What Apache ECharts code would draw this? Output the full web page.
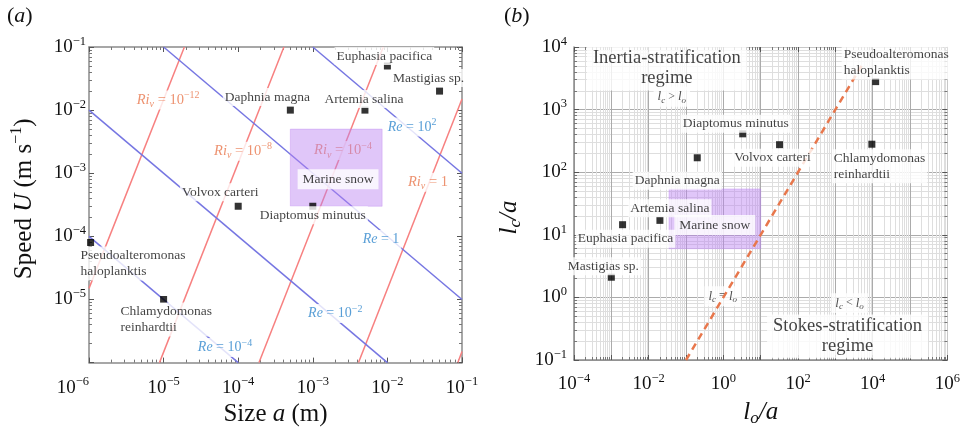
<!DOCTYPE html>
<html><head><meta charset="utf-8">
<script src="https://cdn.jsdelivr.net/npm/echarts@6/dist/echarts.min.js"></script>
<style>html,body{margin:0;padding:0;background:#fff}#c{width:963px;height:432px}</style>
</head><body><div id="c"></div>
<script>
const SERIF = '"Liberation Serif","DejaVu Serif",serif';

// ---------------- panel (a) : speed vs size ----------------
const organisms = ['Euphasia pacifica', 'Mastigias sp.', 'Artemia salina', 'Daphnia magna',
  'Diaptomus minutus', 'Volvox carteri', 'Pseudoalteromonas\nhaloplanktis', 'Chlamydomonas\nreinhardtii'];
const sizeA  = [1e-2, 5e-2, 5e-3, 5e-4, 1e-3, 1e-4, 1.05e-6, 1e-5];
const speedU = [5e-2, 2e-2, 1e-2, 1e-2, 3e-4, 3e-4, 8e-5, 1e-5];

// Reynolds-number lines (endpoints) and labels
const reExp    = [2, 0, -2, -4];
const reLineA  = [[1e-3, 1e-1], [1e-5, 1e-1], [1e-6, 1e-2], [1e-6, 1e-4]];
const reLineU  = [[1e-1, 1e-3], [1e-1, 1e-5], [1e-2, 1e-6], [1e-4, 1e-6]];
const reLabelA = [2.14e-2, 8.2e-3, 2.0e-3, 6.65e-5];
const reLabelU = [5.4e-3, 8.95e-5, 6.0e-6, 1.74e-6];

// Richardson-number lines (endpoints) and labels
const riExp    = [-12, -8, -4, 0];
const riLineA  = [[1e-6, 1.9e-5], [8.8e-6, 4.1e-4], [1.9e-4, 8.8e-3], [4.1e-3, 1e-1], [8.8e-2, 1e-1]];
const riLineU  = [[1.5e-5, 1e-1], [1e-6, 1e-1], [1e-6, 1e-1], [1e-6, 1.5e-2], [1e-6, 1.5e-6]];
const riLabelA = [1.15e-5, 1.16e-4, 2.54e-3, 3.5e-2];
const riLabelU = [1.45e-2, 2.23e-3, 2.3e-3, 7.2e-4];

// marine snow region
const snowA = [5e-4, 8.5e-3];
const snowU = [3e-4, 5e-3];
const snowLabelA = [2.18e-3];
const snowLabelU = [8.0e-4];

// ---------------- panel (b) : lc/a vs lo/a ----------------
const loOverA = [2e-3, 1e-3, 2e-2, 0.2, 3.3, 32, 1.2e4, 9.5e3];
const lcOverA = [14.5, 2.1, 17, 170, 410, 275, 2.8e3, 280];
const snowLo = [0.035, 10];
const snowLc = [6, 54];
const snowLabelLo = [0.59];
const snowLabelLc = [14.3];
const equalLo = [0.1, 5e3];
const equalLc = [0.1, 5e3];
const regimeText = ['Inertia-stratification\nregime', 'Stokes-stratification\nregime'];
const regimeLo = [0.0307, 2.12e3];
const regimeLc = [4.53e3, 0.237];
const condSign = ['>', '<', '='];
const condLo = [0.0417, 2.4e3, 0.964];
const condLc = [1.6e3, 0.805, 1.04];

// ---------------- layout (label offsets) ----------------
const offA = [[-3, -10], [-11, -13], [-1, -11], [-23, -13], [0, 9], [-18, -14], [-12, 21], [-45, 20]];
const alignA = ['center', 'center', 'center', 'center', 'center', 'center', 'left', 'left'];
const offB = [[3, 14], [-8, -11], [10, -12], [-20, 23], [-7, -10], [-7, 13], [-34, -19], [-40, 22]];
const alignB = ['center', 'center', 'center', 'center', 'center', 'center', 'left', 'left'];

const RED = '#f78080', BLUE = '#7676e2', ORANGE = '#e8774c', REBLUE = '#2e86cc';

function supNum(e) { return e < 0 ? '\u2212' + (-e) : String(e); }
function pow10Label(v) {
  const e = Math.round(Math.log10(v));
  return '{b|10}{s|' + supNum(e) + '}';
}
const tickRich = {
  b: { fontFamily: SERIF, fontSize: 19, color: '#111', lineHeight: 24 },
  s: { fontFamily: SERIF, fontSize: 12.5, color: '#111', verticalAlign: 'top', lineHeight: 14 }
};
function pow10LabelEven(v) {
  const e = Math.round(Math.log10(v));
  if (e % 2 !== 0) return '';
  return pow10Label(v);
}

function baseAxis(grid, pos, min, max, o) {
  const a = {
    type: 'log', logBase: 10, gridIndex: grid, position: pos, min: min, max: max,
    axisLine: { show: true, onZero: false, lineStyle: { color: '#8a8a8a', width: 1.5 } },
    axisTick: { show: true, inside: true, length: 5, lineStyle: { color: '#555', width: 1 } },
    minorTick: { show: true, splitNumber: 9, length: 3, lineStyle: { color: '#777', width: 1 } },
    splitLine: { show: false },
    axisLabel: { show: false },
    silent: true
  };
  return Object.assign(a, o || {});
}

const nameRich = {
  n: { fontFamily: SERIF, fontSize: 25, color: '#111', lineHeight: 30 },
  i: { fontFamily: SERIF, fontSize: 25, fontStyle: 'italic', color: '#111', lineHeight: 30 },
  s: { fontFamily: SERIF, fontSize: 16, color: '#111', verticalAlign: 'top', lineHeight: 18 },
  sub: { fontFamily: SERIF, fontSize: 17, fontStyle: 'italic', color: '#111', verticalAlign: 'bottom', lineHeight: 16 }
};

const gridSplit = { show: true, lineStyle: { color: '#ababab', width: 1 } };
const gridMinor = { show: true, lineStyle: { color: '#dedede', width: 1 } };

const xAxes = [
  baseAxis(0, 'bottom', 1e-6, 1e-1, {
    axisLabel: { show: true, formatter: pow10Label, rich: tickRich, margin: 13, alignMinLabel: 'right' },
    name: '{n|Size }{i|a}{n| (m)}', nameLocation: 'middle', nameGap: 36,
    nameTextStyle: { rich: nameRich }
  }),
  baseAxis(1, 'bottom', 1e-4, 1e6, {
    splitNumber: 10,
    axisLabel: { show: true, formatter: pow10LabelEven, rich: tickRich, margin: 12 },
    splitLine: gridSplit, minorSplitLine: gridMinor,
    name: '{i|l}{sub|o}{i|/a}', nameLocation: 'middle', nameGap: 37,
    nameTextStyle: { rich: nameRich }
  }),
  baseAxis(0, 'top', 1e-6, 1e-1),
  baseAxis(1, 'top', 1e-4, 1e6, { splitNumber: 10, axisLine: { show: true, onZero: false, lineStyle: { color: '#c8c8c8', width: 1 } } })
];
const yAxes = [
  baseAxis(0, 'left', 1e-6, 1e-1, {
    axisLabel: { show: true, formatter: pow10Label, rich: tickRich, margin: 3, showMinLabel: false },
    name: '{n|Speed }{i|U}{n| (m s}{s|\u22121}{n|)}', nameLocation: 'middle', nameGap: 50,
    nameTextStyle: { rich: nameRich, padding: [0, 0, 0, 12] }
  }),
  baseAxis(1, 'left', 1e-1, 1e4, {
    axisLabel: { show: true, formatter: pow10Label, rich: tickRich, margin: 7 },
    splitLine: gridSplit, minorSplitLine: gridMinor,
    name: '{i|l}{sub|c}{i|/a}', nameLocation: 'middle', nameGap: 50,
    nameTextStyle: { rich: nameRich, padding: [0, 28, 0, 0] }
  }),
  baseAxis(0, 'right', 1e-6, 1e-1),
  baseAxis(1, 'right', 1e-1, 1e4, { axisLine: { show: true, onZero: false, lineStyle: { color: '#c8c8c8', width: 1 } } })
];

const series = [];
// Ri lines
riLineA.forEach(function (xs, k) {
  series.push({ type: 'line', xAxisIndex: 0, yAxisIndex: 0, z: 1, symbol: 'none', silent: true,
    lineStyle: { color: RED, width: 1.5 }, data: [[xs[0], riLineU[k][0]], [xs[1], riLineU[k][1]]] });
});
// Re lines
reLineA.forEach(function (xs, k) {
  series.push({ type: 'line', xAxisIndex: 0, yAxisIndex: 0, z: 1, symbol: 'none', silent: true,
    lineStyle: { color: BLUE, width: 1.5 }, data: [[xs[0], reLineU[k][0]], [xs[1], reLineU[k][1]]] });
});

const riRich = {
  r: { fontFamily: SERIF, fontSize: 14.5, fontStyle: 'italic', color: ORANGE, lineHeight: 19 },
  v: { fontFamily: SERIF, fontSize: 10, fontStyle: 'italic', color: ORANGE, verticalAlign: 'bottom', lineHeight: 12 },
  t: { fontFamily: SERIF, fontSize: 14.5, color: ORANGE, lineHeight: 19 },
  s: { fontFamily: SERIF, fontSize: 10, color: ORANGE, verticalAlign: 'top', lineHeight: 12 }
};
const reRich = {
  r: { fontFamily: SERIF, fontSize: 14, fontStyle: 'italic', color: REBLUE, lineHeight: 19 },
  t: { fontFamily: SERIF, fontSize: 14, color: REBLUE, lineHeight: 19 },
  s: { fontFamily: SERIF, fontSize: 10, color: REBLUE, verticalAlign: 'top', lineHeight: 12 }
};
series.push({
  type: 'scatter', xAxisIndex: 0, yAxisIndex: 0, z: 2, silent: true, symbolSize: 1,
  itemStyle: { color: 'transparent' },
  data: riExp.map(function (e, k) {
    return { value: [riLabelA[k], riLabelU[k]],
      label: { formatter: e === 0 ? '{r|Ri}{v|v}{t| = 1}' : '{r|Ri}{v|v}{t| = 10}{s|' + supNum(e) + '}' } };
  }),
  label: { show: true, position: 'inside', backgroundColor: '#fff', padding: [0, 2], rich: riRich }
});
series.push({
  type: 'scatter', xAxisIndex: 0, yAxisIndex: 0, z: 2, silent: true, symbolSize: 1,
  itemStyle: { color: 'transparent' },
  data: reExp.map(function (e, k) {
    return { value: [reLabelA[k], reLabelU[k]],
      label: { formatter: e === 0 ? '{r|Re}{t| = 1}' : '{r|Re}{t| = 10}{s|' + supNum(e) + '}' } };
  }),
  label: { show: true, position: 'inside', backgroundColor: '#fff', padding: [0, 2], rich: reRich }
});

function boxSeries(xi, yi, xs, ys) {
  return {
    type: 'custom', xAxisIndex: xi, yAxisIndex: yi, z: 3, silent: true,
    data: [[xs[0], ys[0], xs[1], ys[1]]], encode: { x: [0, 2], y: [1, 3] },
    renderItem: function (params, api) {
      const p0 = api.coord([api.value(0), api.value(3)]);
      const p1 = api.coord([api.value(2), api.value(1)]);
      return { type: 'rect', shape: { x: p0[0], y: p0[1], width: p1[0] - p0[0], height: p1[1] - p0[1] },
        style: { fill: 'rgba(186,128,242,0.45)', stroke: 'rgba(186,128,242,0.35)', lineWidth: 1 } };
    }
  };
}
const plainLabel = { fontFamily: SERIF, fontSize: 13.5, color: '#111', backgroundColor: '#fff', padding: [1, 2], lineHeight: 16 };
function snowLabel(xi, yi, xs, ys) {
  return {
    type: 'scatter', xAxisIndex: xi, yAxisIndex: yi, z: 4, silent: true, symbolSize: 1,
    itemStyle: { color: 'transparent' },
    data: [{ value: [xs[0], ys[0]] }],
    label: Object.assign({ show: true, position: 'inside', formatter: 'Marine snow' }, plainLabel, { padding: [2, 5] })
  };
}
series.push(boxSeries(0, 0, snowA, snowU));
series.push(snowLabel(0, 0, snowLabelA, snowLabelU));

function pointSeries(xi, yi, xs, ys, offs, aligns) {
  return {
    type: 'scatter', xAxisIndex: xi, yAxisIndex: yi, z: 5, silent: true,
    symbol: 'rect', symbolSize: 7, itemStyle: { color: '#000' },
    data: organisms.map(function (n, k) {
      return { name: n, value: [xs[k], ys[k]], label: { offset: offs[k], align: aligns[k] } };
    }),
    label: Object.assign({ show: true, position: 'inside', verticalAlign: 'middle', formatter: '{b}' }, plainLabel)
  };
}
series.push(pointSeries(0, 0, sizeA, speedU, offA, alignA));

// panel (b)
series.push({
  type: 'scatter', xAxisIndex: 1, yAxisIndex: 1, z: 2, silent: true, symbolSize: 1,
  itemStyle: { color: 'transparent' },
  data: regimeText.map(function (t, k) { return { value: [regimeLo[k], regimeLc[k]], label: { formatter: t } }; }),
  label: { show: true, position: 'inside', fontFamily: SERIF, fontSize: 18.5, lineHeight: 20, color: '#111',
    align: 'center', backgroundColor: '#fff', padding: [2, 6] }
});
const condRich = {
  i: { fontFamily: SERIF, fontSize: 13, fontStyle: 'italic', color: '#222', lineHeight: 16 },
  b: { fontFamily: SERIF, fontSize: 9, fontStyle: 'italic', color: '#222', verticalAlign: 'bottom', lineHeight: 10 },
  t: { fontFamily: SERIF, fontSize: 12, color: '#222', lineHeight: 16 }
};
series.push({
  type: 'scatter', xAxisIndex: 1, yAxisIndex: 1, z: 2, silent: true, symbolSize: 1,
  itemStyle: { color: 'transparent' },
  data: condSign.map(function (s, k) {
    return { value: [condLo[k], condLc[k]], label: { formatter: '{i|l}{b|c}{t| ' + s + ' }{i|l}{b|o}' } };
  }),
  label: { show: true, position: 'inside', backgroundColor: '#fff', padding: [2, 4], rich: condRich }
});
series.push(boxSeries(1, 1, snowLo, snowLc));
series.push({
  type: 'line', xAxisIndex: 1, yAxisIndex: 1, z: 4, symbol: 'none', silent: true,
  lineStyle: { color: ORANGE, width: 2.5, type: [7, 5] },
  data: [[equalLo[0], equalLc[0]], [equalLo[1], equalLc[1]]]
});
series.push(snowLabel(1, 1, snowLabelLo, snowLabelLc));
series.push(pointSeries(1, 1, loOverA, lcOverA, offB, alignB));

const panelRich = {
  p: { fontFamily: SERIF, fontSize: 22, fill: '#111' },
  i: { fontFamily: SERIF, fontSize: 22, fontStyle: 'italic', fill: '#111' }
};

const chart = echarts.init(document.getElementById('c'), null, { renderer: 'canvas' });
chart.setOption({
  animation: false,
  backgroundColor: '#fff',
  grid: [
    { left: 89, top: 47, width: 373, height: 316 },
    { left: 574, top: 47, width: 374, height: 320 }
  ],
  xAxis: xAxes,
  yAxis: yAxes,
  series: series,
  graphic: [
    { type: 'text', left: 7, top: 5, style: { text: '{p|(}{i|a}{p|)}', rich: panelRich } },
    { type: 'text', left: 504, top: 5, style: { text: '{p|(}{i|b}{p|)}', rich: panelRich } }
  ]
});
</script>
</body></html>
